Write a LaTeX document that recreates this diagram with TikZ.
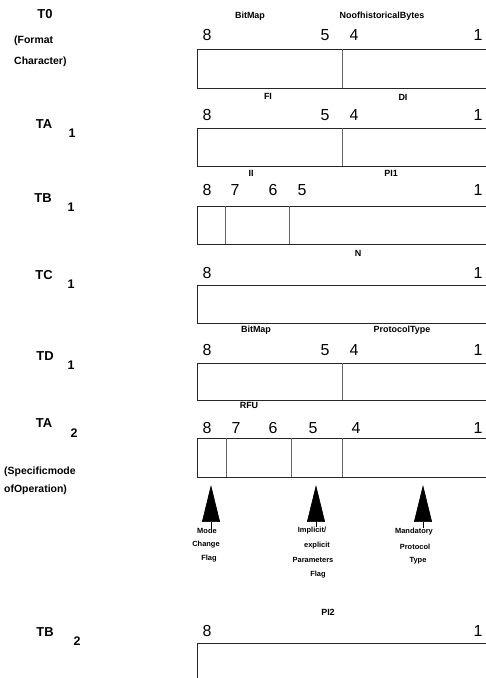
\documentclass[tikz,border=0pt]{standalone}
\usepackage{fontspec}
\setmainfont{Liberation Sans}
\usetikzlibrary{arrows.meta}

\tikzset{
  bitnum/.style={font=\fontsize{16}{16}\selectfont, inner sep=0pt},
  reglabel/.style={font=\fontsize{13}{14}\selectfont\bfseries, inner sep=0pt},
  regsub/.style={font=\fontsize{12.5}{13}\selectfont\bfseries, inner sep=0pt},
  sidenote/.style={font=\fontsize{10.5}{11}\selectfont\bfseries, inner sep=0pt, anchor=west},
  fieldlabel/.style={font=\fontsize{9}{10}\selectfont\bfseries, inner sep=0pt},
  flagnote/.style={font=\fontsize{7.5}{8}\selectfont\bfseries, inner sep=0pt},
  regbox/.style={draw=black!85, line width=0.8pt},
  divider/.style={draw=black!60, line width=0.8pt},
  flagarrow/.style={line width=0.6pt, -{Triangle[width=18pt,length=37pt]}}
}

\begin{document}
\begin{tikzpicture}[x=1bp, y=-1bp]
\clip (0,0) rectangle (486,678);

% T0 (format character)
\node[reglabel] (t0) at (45,14) {T0};
\node[sidenote] (t0noteA) at (14,41) {(Format};
\node[sidenote] (t0noteB) at (14,62) {Character)};
\node[fieldlabel] (t0bitmap) at (250,16) {BitMap};
\node[fieldlabel] (t0hist) at (382,16) {NoofhistoricalBytes};
\foreach \b/\x in {8/207,5/325,4/354,1/478}
  \node[bitnum] (t0b\b) at (\x,35) {\b};
\draw[regbox] (197,49) rectangle (492,88);
\draw[divider] (342,49) -- (342,88);
\node[fieldlabel] (t0fi) at (268,96) {FI};
\node[fieldlabel] (t0di) at (403,97) {DI};

% TA1
\node[reglabel] (ta1) at (44,124) {TA};
\node[regsub] (ta1sub) at (72,133) {1};
\foreach \b/\x in {8/207,5/325,4/354,1/478}
  \node[bitnum] (ta1b\b) at (\x,115) {\b};
\draw[regbox] (197,128) rectangle (492,166);
\draw[divider] (342,128) -- (342,166);
\node[fieldlabel] (ta1ii) at (251,173) {II};
\node[fieldlabel] (ta1pi) at (391,173) {PI1};

% TB1
\node[reglabel] (tb1) at (43,198) {TB};
\node[regsub] (tb1sub) at (71,207) {1};
\foreach \b/\x in {8/207,7/235,6/273,5/302,1/478}
  \node[bitnum] (tb1b\b) at (\x,190) {\b};
\draw[regbox] (197,206) rectangle (492,244);
\draw[divider] (225,206) -- (225,244);
\draw[divider] (289,206) -- (289,244);
\node[fieldlabel] (tb1n) at (358,253) {N};

% TC1
\node[reglabel] (tc1) at (44,275) {TC};
\node[regsub] (tc1sub) at (71,284) {1};
\foreach \b/\x in {8/207,1/478}
  \node[bitnum] (tc1b\b) at (\x,273) {\b};
\draw[regbox] (197,285) rectangle (492,323);
\node[fieldlabel] (tc1bitmap) at (256,330) {BitMap};
\node[fieldlabel] (tc1proto) at (402,330) {ProtocolType};

% TD1
\node[reglabel] (td1) at (45,356) {TD};
\node[regsub] (td1sub) at (71,365) {1};
\foreach \b/\x in {8/207,5/325,4/354,1/478}
  \node[bitnum] (td1b\b) at (\x,350) {\b};
\draw[regbox] (197,363) rectangle (492,400);
\draw[divider] (342,363) -- (342,400);
\node[fieldlabel] (td1rfu) at (249,405) {RFU};

% TA2 (specific mode of operation)
\node[reglabel] (ta2) at (44,423) {TA};
\node[regsub] (ta2sub) at (74,433) {2};
\node[sidenote] (ta2noteA) at (4,472) {(Specificmode};
\node[sidenote] (ta2noteB) at (4,490) {ofOperation)};
\foreach \b/\x in {8/207,7/236,6/273,5/313,4/356,1/478}
  \node[bitnum] (ta2b\b) at (\x,428) {\b};
\draw[regbox] (197,438) rectangle (492,477);
\draw[divider] (226,438) -- (226,477);
\draw[divider] (291,438) -- (291,477);
\draw[divider] (342,438) -- (342,477);

% Flag arrows
\coordinate (mcTip) at (211,485);
\coordinate (ipTip) at (316,485);
\coordinate (mpTip) at (423,485);
\node[flagnote] (mcA) at (207,531) {Mode};
\node[flagnote] (mcB) at (206,545) {Change};
\node[flagnote] (mcC) at (209,559) {Flag};
\node[flagnote] (ipA) at (312,531) {Implicit/};
\node[flagnote] (ipB) at (317,546) {explicit};
\node[flagnote] (ipC) at (313,560) {Parameters};
\node[flagnote] (ipD) at (318,575) {Flag};
\node[flagnote] (mpA) at (414,532) {Mandatory};
\node[flagnote] (mpB) at (415,547) {Protocol};
\node[flagnote] (mpC) at (418,561) {Type};
\draw[flagarrow] (mcTip |- mcA.north) -- (mcTip);
\draw[flagarrow] (ipTip |- ipA.north) -- (ipTip);
\draw[flagarrow] (mpTip |- mpA.north) -- (mpTip);

% TB2
\node[fieldlabel] (tb2pi) at (328,612) {PI2};
\node[reglabel] (tb2) at (45,632) {TB};
\node[regsub] (tb2sub) at (77,641) {2};
\foreach \b/\x in {8/207,1/478}
  \node[bitnum] (tb2b\b) at (\x,631) {\b};
\draw[regbox] (197,643) rectangle (492,700);

\end{tikzpicture}
\end{document}
